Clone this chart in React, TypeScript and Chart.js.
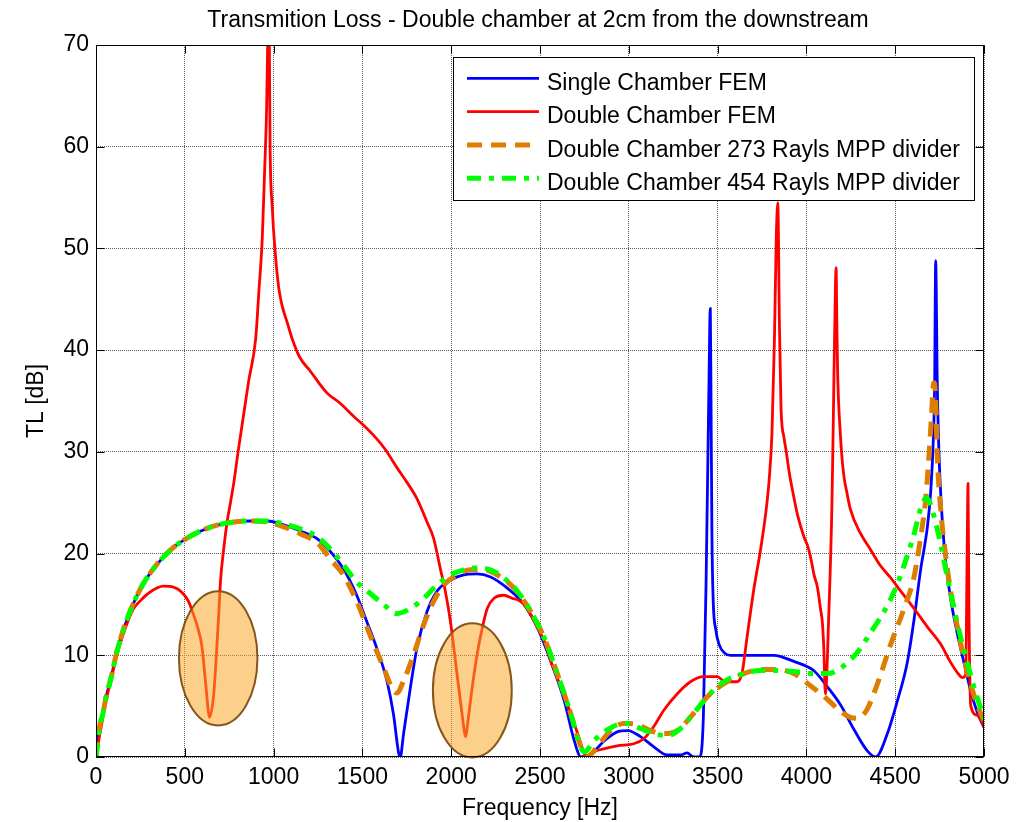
import React, { useEffect, useRef } from 'react';
import { Chart, registerables } from 'chart.js';

Chart.register(...registerables);

// ---------- Text ----------
const TITLE = 'Transmition Loss - Double chamber at 2cm from the downstream';
const X_LABEL = 'Frequency [Hz]';
const Y_LABEL = 'TL [dB]';
const SERIES_NAMES = [
  'Single Chamber FEM',
  'Double Chamber FEM',
  'Double Chamber 273 Rayls MPP divider',
  'Double Chamber 454 Rayls MPP divider',
];

// ---------- Axes ----------
const X_TICKS = [0, 500, 1000, 1500, 2000, 2500, 3000, 3500, 4000, 4500, 5000];
const Y_TICKS = [0, 10, 20, 30, 40, 50, 60, 70];

// ---------- Series: [frequency Hz, TL dB] ----------
const SINGLE_CHAMBER: [number, number][] = [
  [0, 0], [19, 2.9], [38, 4.2], [57, 5.9], [85, 7.8], [114, 10.1], [152, 12.4], [208, 15], [265, 17],
  [341, 18.9], [436, 20.6], [511, 21.5], [587, 22.2], [682, 22.8], [777, 23.1], [871, 23.2], [966, 23.2],
  [1061, 22.8], [1155, 22.2], [1250, 21.4], [1330, 20.0], [1393, 18.5], [1468, 15.9], [1525, 13.3],
  [1581, 10.7], [1638, 7.5], [1675, 4.2], [1704, 0.4], [1713, 0], [1732, 2.3], [1770, 6.8], [1807, 10.7],
  [1864, 14.3], [1920, 16.3], [1996, 17.4], [2071, 17.9], [2146, 18.0], [2222, 17.7], [2316, 16.6],
  [2410, 15.0], [2486, 12.7], [2561, 9.4], [2637, 5.5], [2693, 1.6], [2731, 0], [2787, 0.3], [2863, 1.6],
  [2939, 2.5], [2995, 2.6], [3066, 2.0], [3141, 1.0], [3216, 0.2], [3291, 0.2], [3328, 0.4], [3366, 0],
  [3400, 0], [3420, 4], [3435, 17], [3450, 35], [3459, 44.1], [3463, 35], [3468, 22], [3475, 15.5],
  [3490, 12.5], [3510, 11], [3540, 10.2], [3572, 10], [3816, 10], [3929, 9.4], [4041, 8.5], [4118, 6.9],
  [4193, 5.1], [4268, 2.7], [4343, 0.6], [4390, 0], [4456, 2.3], [4512, 5.5], [4568, 9.3], [4606, 13.5],
  [4643, 18.4], [4681, 22.6], [4700, 26.1], [4715, 31.4], [4722, 36.6], [4728, 48.8], [4737, 36.6],
  [4747, 29.6], [4775, 20.9], [4812, 15.6], [4850, 12.1], [4887, 9.3], [4925, 6.5], [4962, 4.4], [5000, 2.9],
];

const DOUBLE_CHAMBER: [number, number][] = [
  [0, 0], [19, 2.0], [38, 3.8], [57, 5.6], [85, 7.6], [114, 9.8], [152, 12], [208, 14.5], [246, 15.3],
  [303, 16.2], [379, 16.8], [436, 16.7], [483, 16.2], [521, 15.3], [549, 14.0], [578, 12.4], [597, 10.8],
  [616, 7.5], [640, 3.9], [663, 6.2], [678, 10.1], [691, 14.0], [701, 17.3], [720, 20.6], [739, 23.2],
  [758, 25.1], [777, 27.1], [800, 30], [830, 33.5], [860, 37], [899, 41.1], [918, 46], [936, 50.9],
  [949, 57.4], [961, 64], [967, 70.5], [972, 80], [976, 70.5], [980, 60.5], [992, 54.2], [1011, 49.2],
  [1030, 46], [1049, 44.3], [1077, 42.7], [1105, 41.1], [1147, 39.3], [1204, 38.0], [1300, 35.8],
  [1373, 34.8], [1450, 33.5], [1514, 32.5], [1580, 31.3], [1626, 30.3], [1700, 28.3], [1751, 27],
  [1807, 25.4], [1864, 23.1], [1901, 21.5], [1939, 18.5], [1967, 16.3], [1996, 13.3], [2015, 10.7],
  [2033, 8.1], [2052, 5.5], [2071, 2.9], [2080, 2.0], [2099, 4.2], [2118, 6.8], [2146, 10.1], [2175, 12.7],
  [2203, 14.6], [2241, 15.6], [2297, 15.9], [2344, 15.6], [2380, 15.4], [2410, 15.0], [2486, 12.7],
  [2524, 11.4], [2561, 9.4], [2637, 6.0], [2712, 2.3], [2750, 0.3], [2768, 0], [2803, 0.5], [2859, 0.8],
  [2934, 1.1], [3028, 1.3], [3084, 1.8], [3141, 3.0], [3197, 4.6], [3272, 6.2], [3347, 7.4], [3422, 7.9],
  [3497, 7.9], [3544, 7.4], [3610, 7.4], [3638, 8.3], [3666, 11.8], [3704, 16.5], [3741, 20.3],
  [3774, 24.4], [3790, 27.2], [3806, 31.8], [3820, 41], [3830, 50.8], [3839, 54.5], [3848, 42.6],
  [3857, 34.4], [3874, 31.4], [3885, 30.2], [3904, 27.9], [3922, 26.2], [3950, 23.8], [3987, 21.6],
  [4006, 20.8], [4024, 19.6], [4043, 17.9], [4062, 16.7], [4080, 14.5], [4090, 13.2], [4098, 10.7],
  [4107, 6.2], [4126, 14], [4144, 25], [4154, 36], [4163, 45.9], [4167, 48.1], [4172, 42], [4176, 37.7],
  [4191, 31.8], [4209, 27.9], [4228, 26], [4247, 24.4], [4304, 22], [4357, 20.5], [4413, 18.9],
  [4475, 17.6], [4531, 16.3], [4606, 14.6], [4681, 12.8], [4756, 11.1], [4812, 9.3], [4850, 8.3],
  [4878, 7.8], [4897, 8.1], [4905, 20], [4910, 26.9], [4915, 15], [4925, 5.1], [4962, 4.1], [5000, 3.0],
];

const MPP_273: [number, number][] = [
  [0, 0], [19, 2.9], [38, 4.2], [57, 5.9], [85, 7.8], [114, 10.1], [152, 12.4], [208, 15], [265, 17],
  [341, 18.9], [436, 20.6], [511, 21.5], [587, 22.2], [682, 22.8], [777, 23.1], [871, 23.2], [966, 23.1],
  [1061, 22.6], [1155, 21.9], [1250, 21.0], [1317, 19.5], [1393, 17.9], [1468, 15.3], [1543, 12.0],
  [1619, 8.8], [1675, 6.5], [1694, 6.3], [1732, 7.5], [1789, 10.1], [1845, 13.0], [1901, 15.3],
  [1958, 16.9], [2033, 17.9], [2109, 18.4], [2184, 18.4], [2259, 17.9], [2354, 16.6], [2448, 14.3],
  [2524, 11.7], [2599, 8.1], [2674, 4.2], [2731, 1.0], [2765, 0], [2822, 1.0], [2897, 2.6], [2972, 3.3],
  [3047, 3.2], [3122, 2.6], [3197, 2.3], [3272, 2.6], [3366, 4.3], [3441, 5.9], [3535, 7.2], [3647, 8.2],
  [3741, 8.6], [3835, 8.6], [3929, 8.2], [4023, 7.0], [4116, 5.7], [4191, 4.5], [4246, 3.9], [4283, 3.8],
  [4339, 4.6], [4400, 7.2], [4475, 11.1], [4550, 14.6], [4606, 17.7], [4643, 21.6], [4672, 25.4],
  [4690, 29.6], [4703, 33.1], [4715, 36.6], [4720, 36.8], [4728, 34.9], [4737, 29.6], [4756, 24.4],
  [4784, 19.8], [4812, 16.3], [4850, 12.8], [4887, 9.7], [4925, 7.2], [4962, 5.1], [5000, 3.6],
];

const MPP_454: [number, number][] = [
  [0, 0], [19, 2.9], [38, 4.2], [57, 5.9], [85, 7.8], [114, 10.1], [152, 12.4], [208, 15], [265, 17],
  [341, 18.9], [436, 20.6], [511, 21.5], [587, 22.2], [682, 22.8], [777, 23.1], [871, 23.2], [966, 23.2],
  [1061, 22.9], [1155, 22.4], [1250, 21.6], [1317, 20.5], [1393, 18.9], [1468, 17.2], [1543, 16.1],
  [1619, 15.0], [1694, 14.1], [1770, 14.6], [1845, 15.6], [1920, 16.9], [1996, 17.9], [2071, 18.4],
  [2146, 18.6], [2222, 18.4], [2297, 17.6], [2373, 16.3], [2448, 14.3], [2524, 11.7], [2599, 8.1],
  [2674, 4.2], [2728, 1.0], [2750, 0.5], [2803, 1.6], [2863, 2.5], [2939, 3.2], [2991, 3.3], [3066, 2.8],
  [3141, 2.3], [3216, 2.1], [3291, 2.8], [3366, 4.3], [3441, 5.9], [3535, 7.4], [3647, 8.2], [3741, 8.5],
  [3835, 8.5], [3929, 8.4], [4023, 8.2], [4116, 8.2], [4191, 8.7], [4231, 9.3], [4283, 10.2],
  [4357, 12.1], [4456, 14.9], [4512, 17.0], [4568, 19.8], [4606, 21.9], [4643, 24.4], [4676, 25.5],
  [4718, 23.7], [4756, 20.9], [4793, 17.7], [4831, 14.6], [4868, 11.8], [4906, 9.3], [4943, 6.9],
  [4981, 4.8], [5000, 3.7],
];

// Highlight ellipses (data units): centre Hz, centre dB, half-width Hz, half-height dB
const ELLIPSE_HZ = [688, 2119];
const ELLIPSE_TL = [9.7, 6.55];
const ELLIPSE_HALF_HZ = [221, 222];
const ELLIPSE_HALF_TL = [6.6, 6.6];

// ---------- Styles ----------
const FONT = "'Liberation Sans', Arial, sans-serif";
const FS = 23;
const COLORS = ['#0000FF', '#FF0000', '#DE7E00', '#00FF00'];
const WIDTHS = [2.8, 2.8, 5, 5];
const DASHES: number[][] = [[], [], [15, 9], [14, 8, 5, 8]];

const toPts = (arr: [number, number][]) => arr.map(([x, y]) => ({ x, y }));

const overlayPlugin = {
  id: 'overlay',
  afterDatasetsDraw(chart: any) {
    const { ctx, chartArea: a, scales } = chart;
    const xs = scales.x;
    const ys = scales.y;
    ctx.save();

    // ellipses
    for (let i = 0; i < ELLIPSE_HZ.length; i++) {
      const cx = xs.getPixelForValue(ELLIPSE_HZ[i]);
      const cy = ys.getPixelForValue(ELLIPSE_TL[i]);
      const rx = Math.abs(xs.getPixelForValue(ELLIPSE_HZ[i] + ELLIPSE_HALF_HZ[i]) - cx);
      const ry = Math.abs(ys.getPixelForValue(ELLIPSE_TL[i] + ELLIPSE_HALF_TL[i]) - cy);
      ctx.beginPath();
      ctx.ellipse(cx, cy, rx, ry, 0, 0, Math.PI * 2);
      ctx.fillStyle = 'rgba(250,166,41,0.54)';
      ctx.fill();
      ctx.lineWidth = 2;
      ctx.strokeStyle = '#86561A';
      ctx.setLineDash([]);
      ctx.stroke();
    }

    // axes box
    const L = Math.round(a.left) + 0.5;
    const R = Math.round(a.right) - 0.5;
    const T = Math.round(a.top) + 0.5;
    const B = Math.round(a.bottom) - 0.5;
    ctx.strokeStyle = '#000';
    ctx.lineWidth = 1;
    ctx.setLineDash([]);
    ctx.strokeRect(L, T, R - L, B - T);

    // inward ticks
    const TK = 8;
    ctx.beginPath();
    X_TICKS.forEach((v) => {
      const px = Math.round(xs.getPixelForValue(v)) + 0.5;
      ctx.moveTo(px, B); ctx.lineTo(px, B - TK);
      ctx.moveTo(px, T); ctx.lineTo(px, T + TK);
    });
    Y_TICKS.forEach((v) => {
      const py = Math.round(ys.getPixelForValue(v)) + 0.5;
      ctx.moveTo(L, py); ctx.lineTo(L + TK, py);
      ctx.moveTo(R, py); ctx.lineTo(R - TK, py);
    });
    ctx.stroke();

    // title
    ctx.fillStyle = '#000';
    ctx.font = `${FS}px ${FONT}`;
    ctx.textAlign = 'center';
    ctx.textBaseline = 'alphabetic';
    ctx.fillText(TITLE, (a.left + a.right) / 2 - 2, 26.7);

    // legend
    const lx0 = 453.5, ly0 = 57.5, lx1 = 974.5, ly1 = 200.5;
    ctx.fillStyle = '#fff';
    ctx.fillRect(lx0, ly0, lx1 - lx0, ly1 - ly0);
    ctx.strokeStyle = '#000';
    ctx.lineWidth = 1;
    ctx.strokeRect(lx0, ly0, lx1 - lx0, ly1 - ly0);
    SERIES_NAMES.forEach((name, i) => {
      const yy = 78.3 + i * 33.3;
      ctx.beginPath();
      ctx.strokeStyle = COLORS[i];
      ctx.lineWidth = WIDTHS[i];
      ctx.lineCap = 'butt';
      ctx.setLineDash(DASHES[i]);
      ctx.moveTo(467, yy);
      ctx.lineTo(539, yy);
      ctx.stroke();
      ctx.setLineDash([]);
      ctx.fillStyle = '#000';
      ctx.textAlign = 'left';
      ctx.textBaseline = 'alphabetic';
      ctx.fillText(name, 547, yy + 11.7);
    });

    ctx.restore();
  },
};

export default function App() {
  const ref = useRef<HTMLCanvasElement | null>(null);

  useEffect(() => {
    if (!ref.current) return;
    const series = [SINGLE_CHAMBER, DOUBLE_CHAMBER, MPP_273, MPP_454];
    const orders = [3, 2, 1, 0];
    const chart = new Chart(ref.current, {
      type: 'line',
      data: {
        datasets: series.map((s, i) => ({
          label: SERIES_NAMES[i],
          data: toPts(s),
          borderColor: COLORS[i],
          backgroundColor: COLORS[i],
          borderWidth: WIDTHS[i],
          borderDash: DASHES[i],
          borderCapStyle: 'butt',
          borderJoinStyle: 'round',
          pointRadius: 0,
          fill: false,
          cubicInterpolationMode: 'monotone',
          order: orders[i],
        })),
      },
      options: {
        responsive: false,
        animation: false,
        events: [],
        layout: { padding: { left: 0, top: 45, right: 49, bottom: 0 } },
        plugins: {
          legend: { display: false },
          title: { display: false },
          tooltip: { enabled: false },
        },
        scales: {
          x: {
            type: 'linear',
            min: 0,
            max: 5000,
            afterBuildTicks: (s: any) => { s.ticks = X_TICKS.map((v) => ({ value: v })); },
            afterFit: (s: any) => { s.height = 65; },
            ticks: {
              color: '#000',
              font: { family: FONT, size: FS },
              padding: 6.5,
              maxRotation: 0,
              autoSkip: false,
              callback: (v: any) => String(v),
            },
            grid: { color: '#5a5a5a', lineWidth: 1, drawTicks: false },
            border: { display: false, dash: [1, 1] },
            title: {
              display: true,
              text: X_LABEL,
              color: '#000',
              font: { family: FONT, size: FS },
              padding: { top: 0, bottom: 0 },
            },
          },
          y: {
            type: 'linear',
            min: 0,
            max: 70,
            afterBuildTicks: (s: any) => { s.ticks = Y_TICKS.map((v) => ({ value: v })); },
            afterFit: (s: any) => { s.width = 96; },
            ticks: {
              color: '#000',
              font: { family: FONT, size: FS },
              padding: 7,
              autoSkip: false,
              callback: (v: any) => String(v),
            },
            grid: { color: '#5a5a5a', lineWidth: 1, drawTicks: false },
            border: { display: false, dash: [1, 1] },
            title: {
              display: true,
              text: Y_LABEL,
              color: '#000',
              font: { family: FONT, size: FS },
              padding: { top: 23, bottom: 0 },
            },
          },
        },
      },
      plugins: [overlayPlugin],
    } as any);
    return () => chart.destroy();
  }, []);

  return (
    <div style={{ position: 'absolute', left: 0, top: 0, width: 1033, height: 822, background: '#fff' }}>
      <canvas ref={ref} width={1033} height={822} style={{ display: 'block' }} />
    </div>
  );
}
